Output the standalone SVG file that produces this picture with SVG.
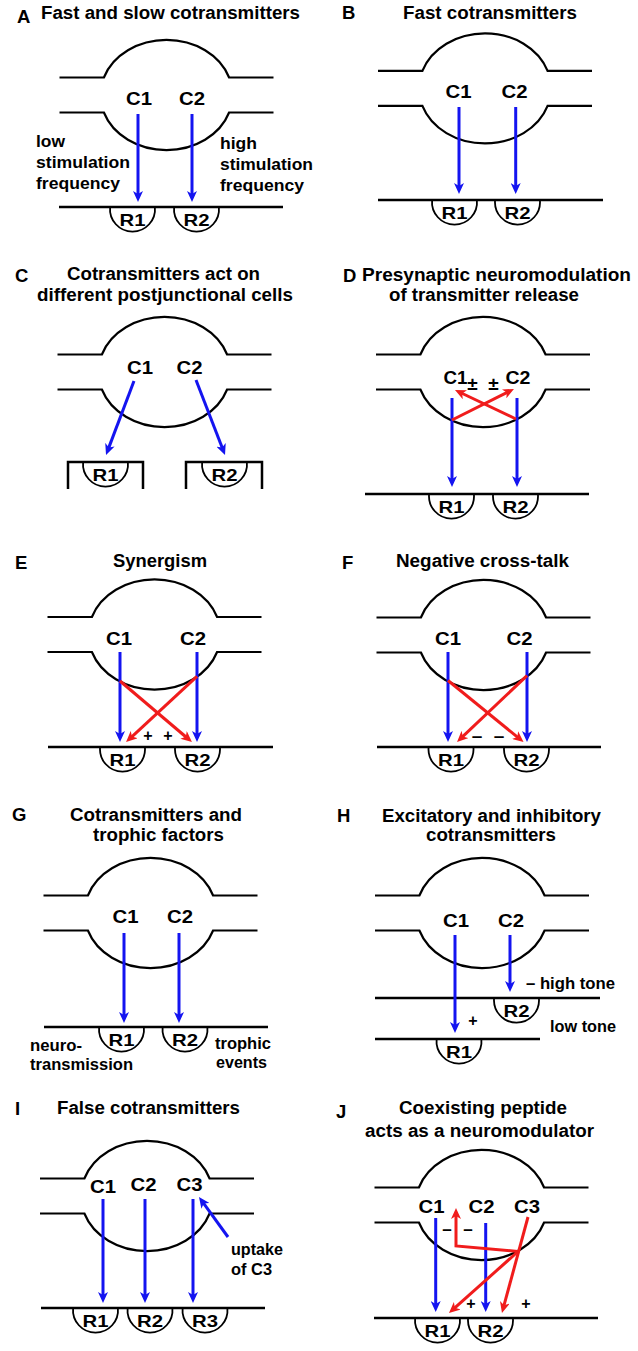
<svg xmlns="http://www.w3.org/2000/svg" width="638" height="1351" viewBox="0 0 638 1351">
<defs>
<style>
text{font-family:"Liberation Sans",Arial,sans-serif;fill:#000}
.let{font-size:18.5px;font-weight:bold}
.ttl{font-size:17.5px;font-weight:bold}
.c{font-size:18px;font-weight:bold;text-anchor:middle}
.r{font-size:16.5px;font-weight:bold;text-anchor:middle}
.lab{font-size:16.5px;font-weight:bold}
.sg{font-size:16px;font-weight:bold;text-anchor:middle}
.mem{fill:none;stroke:#000;stroke-width:2.2}
.post{fill:none;stroke:#000;stroke-width:2.5}
.rec{fill:none;stroke:#000;stroke-width:1.8}
.b{fill:none;stroke:#1414f0;stroke-width:3;marker-end:url(#ab)}
.rd{fill:none;stroke:#f01c1c;stroke-width:3;marker-end:url(#ar)}
</style>
<marker id="ab" markerUnits="userSpaceOnUse" markerWidth="11" markerHeight="10" refX="4" refY="5" orient="auto"><path d="M0,0 L11,5 L0,10 L3,5 z" fill="#1414f0"/></marker>
<marker id="ar" markerUnits="userSpaceOnUse" markerWidth="11" markerHeight="10" refX="4" refY="5" orient="auto"><path d="M0,0 L11,5 L0,10 L3,5 z" fill="#f01c1c"/></marker>
<path id="vari" class="mem" d="M-107,-17.5 H-62.6 A66 55 0 0 1 62.6,-17.5 H107 M-107,17.5 H-62.6 A66 55 0 0 0 62.6,17.5 H107"/>
<path id="rcp" class="rec" d="M-22.4,0 A22.5 22.5 0 1 0 22.4,0"/>
</defs>

<!-- Panel A -->
<g id="panel-A">
<text class="let" x="17" y="23">A</text>
<text class="ttl" x="41" y="19" textLength="259" lengthAdjust="spacingAndGlyphs">Fast and slow cotransmitters</text>
<g id="A-terminal"><use href="#vari" x="166.5" y="95"/>
<text class="c" x="139" y="105" textLength="26" lengthAdjust="spacingAndGlyphs">C1</text>
<text class="c" x="192" y="105" textLength="26" lengthAdjust="spacingAndGlyphs">C2</text></g>
<g id="A-post"><path class="post" d="M59,207 H283"/></g>
<g id="A-R1"><use href="#rcp" x="132.5" y="207"/><text class="r" x="132.5" y="226" textLength="26" lengthAdjust="spacingAndGlyphs">R1</text></g>
<g id="A-R2"><use href="#rcp" x="196.5" y="207"/><text class="r" x="196.5" y="226" textLength="26" lengthAdjust="spacingAndGlyphs">R2</text></g>
<g id="A-labels">
<text class="lab" x="36" y="147" textLength="29" lengthAdjust="spacingAndGlyphs">low</text>
<text class="lab" x="36" y="168" textLength="94" lengthAdjust="spacingAndGlyphs">stimulation</text>
<text class="lab" x="36" y="189" textLength="84" lengthAdjust="spacingAndGlyphs">frequency</text>
<text class="lab" x="220" y="149" textLength="37" lengthAdjust="spacingAndGlyphs">high</text>
<text class="lab" x="220" y="170" textLength="93" lengthAdjust="spacingAndGlyphs">stimulation</text>
<text class="lab" x="220" y="191" textLength="84" lengthAdjust="spacingAndGlyphs">frequency</text>
</g>
<g id="A-connectors"><path class="b" d="M138,114 V195"/><path class="b" d="M192,114 V195"/></g>
</g>

<!-- Panel B -->
<g id="panel-B">
<text class="let" x="342" y="19">B</text>
<text class="ttl" x="403" y="19" textLength="174" lengthAdjust="spacingAndGlyphs">Fast cotransmitters</text>
<g id="B-terminal"><use href="#vari" x="485" y="88.4"/>
<text class="c" x="458.5" y="98" textLength="26" lengthAdjust="spacingAndGlyphs">C1</text>
<text class="c" x="514.5" y="98" textLength="26" lengthAdjust="spacingAndGlyphs">C2</text></g>
<g id="B-post"><path class="post" d="M378,200 H603"/></g>
<g id="B-R1"><use href="#rcp" x="454.5" y="200"/><text class="r" x="454.5" y="219" textLength="26" lengthAdjust="spacingAndGlyphs">R1</text></g>
<g id="B-R2"><use href="#rcp" x="517.5" y="200"/><text class="r" x="517.5" y="219" textLength="26" lengthAdjust="spacingAndGlyphs">R2</text></g>
<g id="B-connectors"><path class="b" d="M459,107 V187"/><path class="b" d="M515.7,107 V187"/></g>
</g>

<!-- Panel C -->
<g id="panel-C">
<text class="let" x="15" y="282">C</text>
<text class="ttl" x="67" y="280" textLength="193" lengthAdjust="spacingAndGlyphs">Cotransmitters act on</text>
<text class="ttl" x="37" y="301" textLength="256" lengthAdjust="spacingAndGlyphs">different postjunctional cells</text>
<g id="C-terminal"><use href="#vari" x="164.5" y="372"/>
<text class="c" x="140" y="374" textLength="26" lengthAdjust="spacingAndGlyphs">C1</text>
<text class="c" x="189.5" y="374" textLength="26" lengthAdjust="spacingAndGlyphs">C2</text></g>
<g id="C-cell1"><path class="post" d="M68,489 V462 H143 V489"/></g>
<g id="C-cell2"><path class="post" d="M186,489 V462 H262 V489"/></g>
<g id="C-R1"><use href="#rcp" x="105.5" y="462"/><text class="r" x="105.5" y="481" textLength="26" lengthAdjust="spacingAndGlyphs">R1</text></g>
<g id="C-R2"><use href="#rcp" x="224.5" y="462"/><text class="r" x="224.5" y="481" textLength="26" lengthAdjust="spacingAndGlyphs">R2</text></g>
<g id="C-connectors"><path class="b" d="M134,381 L108.5,448.4"/><path class="b" d="M196,380 L222.5,448.5"/></g>
</g>

<!-- Panel D -->
<g id="panel-D">
<text class="let" x="343" y="282">D</text>
<text class="ttl" x="362" y="281" textLength="269" lengthAdjust="spacingAndGlyphs">Presynaptic neuromodulation</text>
<text class="ttl" x="389" y="301" textLength="190" lengthAdjust="spacingAndGlyphs">of transmitter release</text>
<g id="D-terminal"><use href="#vari" x="483" y="372"/>
<text class="c" x="455.5" y="384" textLength="24" lengthAdjust="spacingAndGlyphs">C1</text>
<text class="c" x="518" y="384" textLength="25" lengthAdjust="spacingAndGlyphs">C2</text>
<text class="sg" x="472.5" y="390" style="font-size:19px">±</text>
<text class="sg" x="493.5" y="390" style="font-size:19px">±</text></g>
<g id="D-post"><path class="post" d="M365,494 H589"/></g>
<g id="D-R1"><use href="#rcp" x="451.5" y="494"/><text class="r" x="451.5" y="513" textLength="26" lengthAdjust="spacingAndGlyphs">R1</text></g>
<g id="D-R2"><use href="#rcp" x="515.5" y="494"/><text class="r" x="515.5" y="513" textLength="26" lengthAdjust="spacingAndGlyphs">R2</text></g>
<g id="D-connectors">
<path class="b" d="M452,398 V480"/><path class="b" d="M517,398 V480"/>
<path class="rd" d="M452,420 L507.7,392.1"/><path class="rd" d="M516,419 L461.3,393"/>
</g>
</g>

<!-- Panel E -->
<g id="panel-E">
<text class="let" x="15" y="569">E</text>
<text class="ttl" x="113" y="567" textLength="94" lengthAdjust="spacingAndGlyphs">Synergism</text>
<g id="E-terminal"><use href="#vari" x="154.5" y="634.5"/>
<text class="c" x="119" y="645" textLength="26" lengthAdjust="spacingAndGlyphs">C1</text>
<text class="c" x="193" y="645" textLength="26" lengthAdjust="spacingAndGlyphs">C2</text></g>
<g id="E-post"><path class="post" d="M48,747 H273"/></g>
<g id="E-R1"><use href="#rcp" x="122.5" y="747"/><text class="r" x="122.5" y="766" textLength="26" lengthAdjust="spacingAndGlyphs">R1</text></g>
<g id="E-R2"><use href="#rcp" x="197.5" y="747"/><text class="r" x="197.5" y="766" textLength="26" lengthAdjust="spacingAndGlyphs">R2</text></g>
<g id="E-signs"><text class="sg" x="148" y="741">+</text><text class="sg" x="168" y="741">+</text></g>
<g id="E-connectors">
<path class="b" d="M120,652 V735"/><path class="b" d="M197,652 V735"/>
<path class="rd" d="M120,681 L186.6,737.5"/><path class="rd" d="M197,676.3 L131.2,737.3"/>
</g>
</g>

<!-- Panel F -->
<g id="panel-F">
<text class="let" x="342" y="569">F</text>
<text class="ttl" x="396" y="567" textLength="173" lengthAdjust="spacingAndGlyphs">Negative cross-talk</text>
<g id="F-terminal"><use href="#vari" x="483.5" y="635"/>
<text class="c" x="448" y="645" textLength="26" lengthAdjust="spacingAndGlyphs">C1</text>
<text class="c" x="519.5" y="645" textLength="26" lengthAdjust="spacingAndGlyphs">C2</text></g>
<g id="F-post"><path class="post" d="M377,747 H601"/></g>
<g id="F-R1"><use href="#rcp" x="451" y="747"/><text class="r" x="451" y="766" textLength="26" lengthAdjust="spacingAndGlyphs">R1</text></g>
<g id="F-R2"><use href="#rcp" x="526.5" y="747"/><text class="r" x="526.5" y="766" textLength="26" lengthAdjust="spacingAndGlyphs">R2</text></g>
<g id="F-signs"><text class="sg" x="477" y="742" style="font-size:19px">–</text><text class="sg" x="499" y="742" style="font-size:19px">–</text></g>
<g id="F-connectors">
<path class="b" d="M448,652 V735"/><path class="b" d="M527,652 V735"/>
<path class="rd" d="M448,680.5 L518.1,737.6"/><path class="rd" d="M527,675.6 L462.1,737.2"/>
</g>
</g>

<!-- Panel G -->
<g id="panel-G">
<text class="let" x="12" y="821">G</text>
<text class="ttl" x="70" y="821" textLength="172" lengthAdjust="spacingAndGlyphs">Cotransmitters and</text>
<text class="ttl" x="93" y="841" textLength="131" lengthAdjust="spacingAndGlyphs">trophic factors</text>
<g id="G-terminal"><use href="#vari" x="150.5" y="913"/>
<text class="c" x="125.5" y="923" textLength="26" lengthAdjust="spacingAndGlyphs">C1</text>
<text class="c" x="180" y="923" textLength="26" lengthAdjust="spacingAndGlyphs">C2</text></g>
<g id="G-post"><path class="post" d="M44,1027 H268"/></g>
<g id="G-R1"><use href="#rcp" x="121.5" y="1027"/><text class="r" x="121.5" y="1046" textLength="26" lengthAdjust="spacingAndGlyphs">R1</text></g>
<g id="G-R2"><use href="#rcp" x="185" y="1027"/><text class="r" x="185" y="1046" textLength="26" lengthAdjust="spacingAndGlyphs">R2</text></g>
<g id="G-labels">
<text class="lab" x="30" y="1051" textLength="52" lengthAdjust="spacingAndGlyphs">neuro-</text>
<text class="lab" x="30" y="1070" textLength="103" lengthAdjust="spacingAndGlyphs">transmission</text>
<text class="lab" x="215" y="1049" textLength="56" lengthAdjust="spacingAndGlyphs">trophic</text>
<text class="lab" x="216" y="1068" textLength="51" lengthAdjust="spacingAndGlyphs">events</text>
</g>
<g id="G-connectors"><path class="b" d="M124,933 V1016"/><path class="b" d="M179,933 V1016"/></g>
</g>

<!-- Panel H -->
<g id="panel-H">
<text class="let" x="337" y="822">H</text>
<text class="ttl" x="382" y="822" textLength="219" lengthAdjust="spacingAndGlyphs">Excitatory and inhibitory</text>
<text class="ttl" x="426" y="841" textLength="130" lengthAdjust="spacingAndGlyphs">cotransmitters</text>
<g id="H-terminal"><use href="#vari" x="482" y="913"/>
<text class="c" x="456" y="927" textLength="26" lengthAdjust="spacingAndGlyphs">C1</text>
<text class="c" x="511" y="927" textLength="26" lengthAdjust="spacingAndGlyphs">C2</text></g>
<g id="H-post-high"><path class="post" d="M375,998 H600"/></g>
<g id="H-post-low"><path class="post" d="M375,1039 H540"/></g>
<g id="H-R2"><use href="#rcp" x="516.5" y="998"/><text class="r" x="516.5" y="1017" textLength="26" lengthAdjust="spacingAndGlyphs">R2</text></g>
<g id="H-R1"><use href="#rcp" x="459" y="1039"/><text class="r" x="459" y="1058" textLength="26" lengthAdjust="spacingAndGlyphs">R1</text></g>
<g id="H-labels">
<text class="lab" x="526" y="989" textLength="89" lengthAdjust="spacingAndGlyphs">– high tone</text>
<text class="sg" x="473" y="1026">+</text>
<text class="lab" x="550" y="1032" textLength="66" lengthAdjust="spacingAndGlyphs">low tone</text>
</g>
<g id="H-connectors"><path class="b" d="M455,935 V1026"/><path class="b" d="M510,935 V985"/></g>
</g>

<!-- Panel I -->
<g id="panel-I">
<text class="let" x="15" y="1115">I</text>
<text class="ttl" x="57" y="1114" textLength="183" lengthAdjust="spacingAndGlyphs">False cotransmitters</text>
<g id="I-terminal"><use href="#vari" x="147" y="1196"/>
<text class="c" x="103" y="1192.5" textLength="26" lengthAdjust="spacingAndGlyphs">C1</text>
<text class="c" x="143.5" y="1191" textLength="26" lengthAdjust="spacingAndGlyphs">C2</text>
<text class="c" x="189.5" y="1191" textLength="26" lengthAdjust="spacingAndGlyphs">C3</text></g>
<g id="I-post"><path class="post" d="M41,1308 H265"/></g>
<g id="I-R1"><use href="#rcp" x="95.5" y="1308"/><text class="r" x="95.5" y="1327" textLength="26" lengthAdjust="spacingAndGlyphs">R1</text></g>
<g id="I-R2"><use href="#rcp" x="150" y="1308"/><text class="r" x="150" y="1327" textLength="26" lengthAdjust="spacingAndGlyphs">R2</text></g>
<g id="I-R3"><use href="#rcp" x="205" y="1308"/><text class="r" x="205" y="1327" textLength="26" lengthAdjust="spacingAndGlyphs">R3</text></g>
<g id="I-labels">
<text class="lab" x="231" y="1255" textLength="52" lengthAdjust="spacingAndGlyphs">uptake</text>
<text class="lab" x="231" y="1275" textLength="41" lengthAdjust="spacingAndGlyphs">of C3</text>
</g>
<g id="I-connectors">
<path class="b" d="M103,1199 V1296"/><path class="b" d="M145,1199 V1296"/><path class="b" d="M193,1199 V1296"/>
<path class="b" d="M228,1237 L203.1,1202.7"/>
</g>
</g>

<!-- Panel J -->
<g id="panel-J">
<text class="let" x="336" y="1118">J</text>
<text class="ttl" x="399" y="1114" textLength="168" lengthAdjust="spacingAndGlyphs">Coexisting peptide</text>
<text class="ttl" x="365" y="1137" textLength="229" lengthAdjust="spacingAndGlyphs">acts as a neuromodulator</text>
<g id="J-terminal"><use href="#vari" x="481.5" y="1205"/>
<text class="c" x="431.5" y="1212.5" textLength="26" lengthAdjust="spacingAndGlyphs">C1</text>
<text class="c" x="481.5" y="1212.5" textLength="26" lengthAdjust="spacingAndGlyphs">C2</text>
<text class="c" x="527" y="1212.5" textLength="26" lengthAdjust="spacingAndGlyphs">C3</text></g>
<g id="J-post"><path class="post" d="M374,1318 H598"/></g>
<g id="J-R1"><use href="#rcp" x="437.5" y="1318"/><text class="r" x="437.5" y="1337" textLength="26" lengthAdjust="spacingAndGlyphs">R1</text></g>
<g id="J-R2"><use href="#rcp" x="490.5" y="1318"/><text class="r" x="490.5" y="1337" textLength="26" lengthAdjust="spacingAndGlyphs">R2</text></g>
<g id="J-signs">
<text class="sg" x="447" y="1234.5" style="font-size:17px">–</text><text class="sg" x="468" y="1234.5" style="font-size:17px">–</text>
<text class="sg" x="471" y="1309">+</text><text class="sg" x="526" y="1309">+</text>
</g>
<g id="J-connectors">
<path class="b" d="M435.7,1218 V1305"/><path class="b" d="M485.7,1223 V1305"/>
<path class="rd" d="M528,1217 L503.8,1306.2"/>
<path class="rd" d="M518,1251.5 L454.2,1308.4"/>
<path class="rd" d="M518,1251.5 L456,1246 V1215"/>
</g>
</g>
</svg>
